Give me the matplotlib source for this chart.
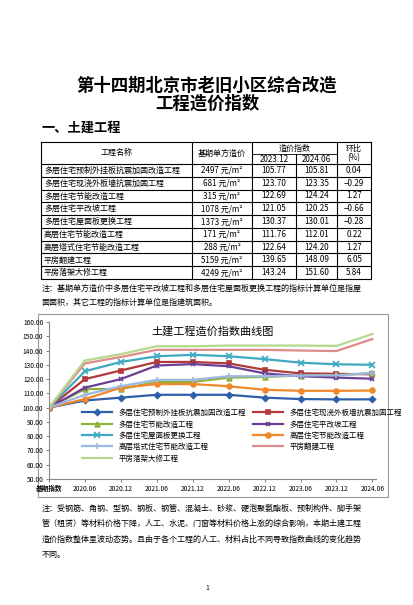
import matplotlib
matplotlib.use("Agg")
import matplotlib.pyplot as plt

plt.rcParams['font.family'] = ['Noto Sans CJK SC', 'DejaVu Sans']

names = ["多层住宅预制外挂板抗震加固改造工程", "多层住宅现浇外板墙抗震加固工程", "多层住宅节能改造工程",
         "多层住宅平改坡工程", "多层住宅屋面板更换工程", "高层住宅节能改造工程",
         "高层塔式住宅节能改造工程", "平房翻建工程", "平房落架大修工程"]
base_price = ["2497 元/m²", "681 元/m²", "315 元/m²", "1078 元/m²", "1373 元/m²",
              "171 元/m²", "288 元/m²", "5159 元/m²", "4249 元/m²"]
idx_2312 = ["105.77", "123.70", "122.69", "121.05", "130.37", "111.76", "122.64", "139.65", "143.24"]
idx_2406 = ["105.81", "123.35", "124.24", "120.25", "130.01", "112.01", "124.20", "148.09", "151.60"]
ratio = ["0.04", "−0.29", "1.27", "−0.66", "−0.28", "0.22", "1.27", "6.05", "5.84"]

periods = ["基期指数", "2020.06", "2020.12", "2021.06", "2021.12", "2022.06", "2022.12", "2023.06", "2023.12", "2024.06"]
s1 = [100, 105, 107, 109, 109, 109, 107, 106, 105.77, 105.81]
s2 = [100, 120, 126, 132, 132, 131, 126.5, 124, 123.70, 123.35]
s3 = [100, 113, 113, 118, 118, 121, 121.5, 122.5, 122.69, 124.24]
s4 = [100, 114, 120, 129.5, 130.5, 129, 124, 122, 121.05, 120.25]
s5 = [100, 125.5, 132, 136, 137, 136, 134, 131.5, 130.37, 130.01]
s6 = [100, 106, 114, 116.5, 116.5, 115, 112.5, 111.8, 111.76, 112.01]
s7 = [100, 109, 115, 119.5, 119.5, 122, 122, 122.5, 122.64, 124.20]
s8 = [100, 131, 135.5, 140.5, 140.5, 140.5, 140.5, 140, 139.65, 148.09]
s9 = [100, 133, 137.5, 143, 143, 143.5, 143.5, 143.5, 143.24, 151.60]
series = [s1, s2, s3, s4, s5, s6, s7, s8, s9]
styles = [("#2E5FA8", "D", 3), ("#B03A3A", "s", 3.5), ("#8DB33A", "^", 3.5), ("#6A3F95", "x", 3.5),
          ("#3FA9C0", "x", 4), ("#F0882A", "o", 3.5), ("#9DB8E0", "+", 4), ("#E08A8A", None, 0), ("#B5D88A", None, 0)]

W, H = 414, 605
fig = plt.figure(figsize=(W/100, H/100), dpi=100)
fig.patch.set_facecolor("white")
ov = fig.add_axes([0, 0, 1, 1])
ov.set_xlim(0, W); ov.set_ylim(H, 0); ov.axis("off")

ov.text(207, 86, "第十四期北京市老旧小区综合改造", ha="center", va="center", fontsize=12.5, fontweight="bold")
ov.text(207, 104, "工程造价指数", ha="center", va="center", fontsize=12.5, fontweight="bold")
ov.text(42, 128, "一、土建工程", ha="left", va="center", fontsize=9.5, fontweight="bold")

# table
cols = [41, 192, 252, 296, 337, 371]
top, mid, hb = 142, 154, 164
rh = (279 - hb) / 9
lw = 0.8
ov.plot([cols[0], cols[-1]], [top, top], color="k", lw=lw)
ov.plot([cols[2], cols[4]], [mid, mid], color="k", lw=0.6)
for i in range(10):
    y = hb + i * rh
    ov.plot([cols[0], cols[-1]], [y, y], color="k", lw=lw)
for j, x in enumerate(cols):
    y0 = mid if j == 3 else top
    ov.plot([x, x], [y0, 279], color="k", lw=lw)
fs = 5.8
ov.text((cols[0]+cols[1])/2, (top+hb)/2, "工程名称", ha="center", va="center", fontsize=fs)
ov.text((cols[1]+cols[2])/2, (top+hb)/2, "基期单方造价", ha="center", va="center", fontsize=fs)
ov.text((cols[2]+cols[4])/2, (top+mid)/2, "造价指数", ha="center", va="center", fontsize=fs)
ov.text((cols[2]+cols[3])/2, (mid+hb)/2, "2023.12", ha="center", va="center", fontsize=fs)
ov.text((cols[3]+cols[4])/2, (mid+hb)/2, "2024.06", ha="center", va="center", fontsize=fs)
ov.text((cols[4]+cols[5])/2, 148, "环比", ha="center", va="center", fontsize=fs)
ov.text((cols[4]+cols[5])/2, 158, "(%)", ha="center", va="center", fontsize=fs)
for i in range(9):
    y = hb + (i + 0.5) * rh
    ov.text(cols[0]+3, y, names[i], ha="left", va="center", fontsize=fs)
    ov.text((cols[1]+cols[2])/2, y, base_price[i], ha="center", va="center", fontsize=fs)
    ov.text((cols[2]+cols[3])/2, y, idx_2312[i], ha="center", va="center", fontsize=fs)
    ov.text((cols[3]+cols[4])/2, y, idx_2406[i], ha="center", va="center", fontsize=fs)
    ov.text((cols[4]+cols[5])/2, y, ratio[i], ha="center", va="center", fontsize=fs)
ov.text(42, 288, "注：基期单方造价中多层住宅平改坡工程和多层住宅屋面板更换工程的指标计算单位是指屋", ha="left", va="center", fontsize=5.8)
ov.text(42, 302, "面面积，其它工程的指标计算单位是指建筑面积。", ha="left", va="center", fontsize=5.8)

# chart frame
ov.add_patch(plt.Rectangle((38, 314), 350, 183, fill=False, ec="#999999", lw=0.8))

ax = fig.add_axes([49/W, 1-479/H, (376-49)/W, (479-322)/H])
x = list(range(len(periods)))
handles = []
for s, n, (c, m, ms) in zip(series, names, styles):
    h, = ax.plot(x, s, color=c, lw=1.6, marker=m, ms=ms, mew=1.2, label=n)
    handles.append(h)
ax.set_xlim(0, 9.1)
ax.set_ylim(50, 160)
ax.set_yticks(range(50, 161, 10))
ax.set_yticklabels([f"{v:.2f}" for v in range(50, 161, 10)], fontsize=4.8)
ax.set_xticks(x)
ax.set_xticklabels(periods, fontsize=4.8)
ax.get_xticklabels()[0].set_fontweight("bold")
for sp in ["top", "right"]:
    ax.spines[sp].set_visible(False)
ax.spines["left"].set_color("#888888"); ax.spines["bottom"].set_color("#888888")
ax.tick_params(length=2, pad=2, color="#888888")
ax.set_title("土建工程造价指数曲线图", fontsize=8, pad=-9, y=1.0)
order = [0, 2, 4, 6, 8, 1, 3, 5, 7]
ax.legend([handles[i] for i in order], [names[i] for i in order], ncol=2, fontsize=5.4,
          frameon=False, loc="upper left", bbox_to_anchor=(0.09, 0.47),
          handlelength=4, columnspacing=1.0, labelspacing=0.45, borderpad=0)

notes = ["注：受钢筋、角钢、型钢、钢板、钢管、混凝土、砂浆、硬泡聚氨酯板、预制构件、脚手架",
         "管（租赁）等材料价格下降，人工、水泥、门窗等材料价格上涨的综合影响，本期土建工程",
         "造价指数整体呈波动态势。且由于各个工程的人工、材料占比不同导致指数曲线的变化趋势",
         "不同。"]
for i, t in enumerate(notes):
    ov.text(42, 508 + i * 15.5, t, ha="left", va="center", fontsize=5.8)
ov.text(207, 588, "1", ha="center", va="center", fontsize=5)

fig.savefig("out.png", dpi=100, facecolor="white")
